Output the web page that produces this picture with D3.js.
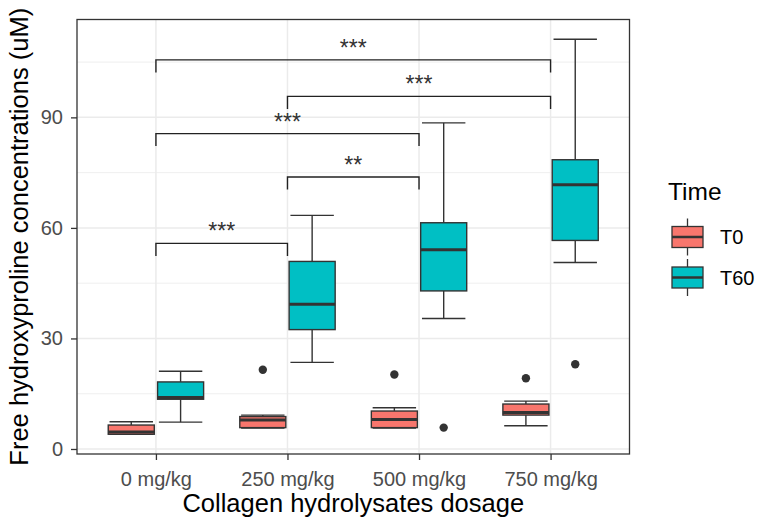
<!DOCTYPE html>
<html>
<head>
<meta charset="utf-8">
<script src="https://cdn.jsdelivr.net/npm/d3@7"></script>
<style>
body { margin: 0; background: #fff; }
svg text { font-family: "Liberation Sans", Arial, sans-serif; }
</style>
</head>
<body>
<div class="canva"></div>
<script>
// categories and groups
const dosages = ["0 mg/kg", "250 mg/kg", "500 mg/kg", "750 mg/kg"];
const times = ["T0", "T60"];
const timeColors = ["#F8766D", "#00BFC4"];

// box stats per dosage: [lower whisker, Q1, median, Q3, upper whisker]
const t0Stats = [
  [4.0, 4.0, 4.6, 6.5, 7.4],
  [5.7, 5.8, 7.9, 8.8, 9.2],
  [5.7, 5.8, 8.0, 10.3, 11.2],
  [6.3, 9.2, 9.9, 12.2, 13.0]
];
const t60Stats = [
  [7.3, 13.5, 14.0, 18.2, 21.1],
  [23.5, 32.4, 39.3, 50.9, 63.4],
  [35.4, 42.9, 54.1, 61.4, 88.5],
  [50.6, 56.6, 71.7, 78.5, 111.2]
];
const t0Outliers = [[], [21.5], [20.2], [19.2]];
const t60Outliers = [[], [], [5.8], [23.0]];

// significance brackets
const pairs = [
  ["0 mg/kg", "250 mg/kg"],
  ["250 mg/kg", "500 mg/kg"],
  ["0 mg/kg", "500 mg/kg"],
  ["250 mg/kg", "750 mg/kg"],
  ["0 mg/kg", "750 mg/kg"]
];
const pairLabels = ["***", "**", "***", "***", "***"];
const pairHeights = [55.8, 73.8, 85.6, 95.7, 105.6];

const yTicks = [0, 30, 60, 90];
const yMinor = [15, 45, 75, 105];

const width = 757, height = 518;
const margin = {top: 19.5, right: 127.5, bottom: 64, left: 77};
const graphWidth = width - margin.left - margin.right;
const graphHeight = height - margin.top - margin.bottom;

const svg = d3.select(".canva").append("svg")
  .attr("width", width)
  .attr("height", height);

const mainCanvas = svg.append("g")
  .attr("transform", `translate(${margin.left}, ${margin.top})`);

// scales
const x = d3.scalePoint()
  .domain(dosages)
  .range([0, graphWidth])
  .padding(0.6);
const step = x.step();

const allVals = [t0Stats, t60Stats, t0Outliers, t60Outliers].flat(2);
const ext = d3.extent(allVals);
const pad = 0.05 * (ext[1] - ext[0]);
const y = d3.scaleLinear()
  .domain([ext[0] - pad, ext[1] + pad])
  .range([graphHeight, 0]);

// grid
mainCanvas.selectAll(".minor")
  .data(yMinor).enter().append("line")
  .attr("x1", 0).attr("x2", graphWidth)
  .attr("y1", d => y(d)).attr("y2", d => y(d))
  .attr("stroke", "#EBEBEB").attr("stroke-width", 0.8);
mainCanvas.selectAll(".majorY")
  .data(yTicks).enter().append("line")
  .attr("x1", 0).attr("x2", graphWidth)
  .attr("y1", d => y(d)).attr("y2", d => y(d))
  .attr("stroke", "#EBEBEB").attr("stroke-width", 1.5);
mainCanvas.selectAll(".majorX")
  .data(dosages).enter().append("line")
  .attr("x1", d => x(d)).attr("x2", d => x(d))
  .attr("y1", 0).attr("y2", graphHeight)
  .attr("stroke", "#EBEBEB").attr("stroke-width", 1.5);

// boxes
const groups = [
  {stats: t0Stats, outliers: t0Outliers, color: timeColors[0], off: -0.1875},
  {stats: t60Stats, outliers: t60Outliers, color: timeColors[1], off: 0.1875}
];
const boxW = 0.35 * step, capW = 0.33 * step;

groups.forEach(g => {
  g.stats.forEach((s, i) => {
    const cx = x(dosages[i]) + g.off * step;
    const box = mainCanvas.append("g");
    // caps
    [s[0], s[4]].forEach(v => {
      box.append("line")
        .attr("x1", cx - capW / 2).attr("x2", cx + capW / 2)
        .attr("y1", y(v)).attr("y2", y(v))
        .attr("stroke", "#333").attr("stroke-width", 1.4);
    });
    // whiskers
    box.append("line")
      .attr("x1", cx).attr("x2", cx)
      .attr("y1", y(s[0])).attr("y2", y(s[1]))
      .attr("stroke", "#333").attr("stroke-width", 1.4);
    box.append("line")
      .attr("x1", cx).attr("x2", cx)
      .attr("y1", y(s[3])).attr("y2", y(s[4]))
      .attr("stroke", "#333").attr("stroke-width", 1.4);
    box.append("rect")
      .attr("x", cx - boxW / 2).attr("width", boxW)
      .attr("y", y(s[3])).attr("height", y(s[1]) - y(s[3]))
      .attr("fill", g.color)
      .attr("stroke", "#333").attr("stroke-width", 1.4);
    box.append("line")
      .attr("x1", cx - boxW / 2).attr("x2", cx + boxW / 2)
      .attr("y1", y(s[2])).attr("y2", y(s[2]))
      .attr("stroke", "#333").attr("stroke-width", 3);
    g.outliers[i].forEach(v => {
      box.append("circle")
        .attr("cx", cx).attr("cy", y(v)).attr("r", 4.2)
        .attr("fill", "#333");
    });
  });
});

// significance brackets
const tip = 3.4;
pairs.forEach((p, i) => {
  const x1 = x(p[0]), x2 = x(p[1]);
  const yl = y(pairHeights[i]), yt = y(pairHeights[i] - tip);
  mainCanvas.append("path")
    .attr("d", `M${x1},${yt}V${yl}H${x2}V${yt}`)
    .attr("fill", "none")
    .attr("stroke", "#222").attr("stroke-width", 1.4);
  mainCanvas.append("text")
    .attr("x", (x1 + x2) / 2)
    .attr("y", yl - 4)
    .attr("text-anchor", "middle")
    .style("font-size", "23px")
    .attr("fill", "#333")
    .text(pairLabels[i]);
});

// panel border
mainCanvas.append("rect")
  .attr("width", graphWidth).attr("height", graphHeight)
  .attr("fill", "none").attr("stroke", "#333").attr("stroke-width", 1.3);

// axes
const yAxis = mainCanvas.append("g")
  .call(d3.axisLeft(y).tickValues(yTicks).tickSize(6).tickPadding(8));
const xAxis = mainCanvas.append("g")
  .attr("transform", `translate(0, ${graphHeight})`)
  .call(d3.axisBottom(x).tickSize(6).tickPadding(12));
[yAxis, xAxis].forEach(a => {
  a.select(".domain").remove();
  a.selectAll(".tick line").attr("stroke", "#333").attr("stroke-width", 1.3);
  a.selectAll(".tick text")
    .style("font-size", "20px")
    .style("font-family", '"Liberation Sans", Arial, sans-serif')
    .attr("fill", "#4D4D4D");
});

// axis titles
svg.append("text")
  .attr("x", margin.left + graphWidth / 2)
  .attr("y", 512)
  .attr("text-anchor", "middle")
  .style("font-size", "25.5px")
  .text("Collagen hydrolysates dosage");
svg.append("text")
  .attr("transform", `translate(28, ${margin.top + graphHeight / 2}) rotate(-90)`)
  .attr("text-anchor", "middle")
  .style("font-size", "25.5px")
  .text("Free hydroxyproline concentrations (uM)");

// legend
const legend = svg.append("g").attr("transform", "translate(668, 0)");
legend.append("text")
  .attr("x", 0).attr("y", 200)
  .style("font-size", "24.5px")
  .text("Time");
times.forEach((t, i) => {
  const cy = 237 + i * 40.5;
  const k = legend.append("g");
  k.append("line")
    .attr("x1", 19.5).attr("x2", 19.5)
    .attr("y1", cy - 18.5).attr("y2", cy + 18.5)
    .attr("stroke", "#333").attr("stroke-width", 1.3);
  k.append("rect")
    .attr("x", 4).attr("width", 31)
    .attr("y", cy - 10.5).attr("height", 21)
    .attr("fill", timeColors[i])
    .attr("stroke", "#333").attr("stroke-width", 1.3);
  k.append("line")
    .attr("x1", 4).attr("x2", 35)
    .attr("y1", cy).attr("y2", cy)
    .attr("stroke", "#333").attr("stroke-width", 2.5);
  legend.append("text")
    .attr("x", 52).attr("y", cy)
    .attr("dy", "0.36em")
    .style("font-size", "20px")
    .text(t);
});
</script>
</body>
</html>
